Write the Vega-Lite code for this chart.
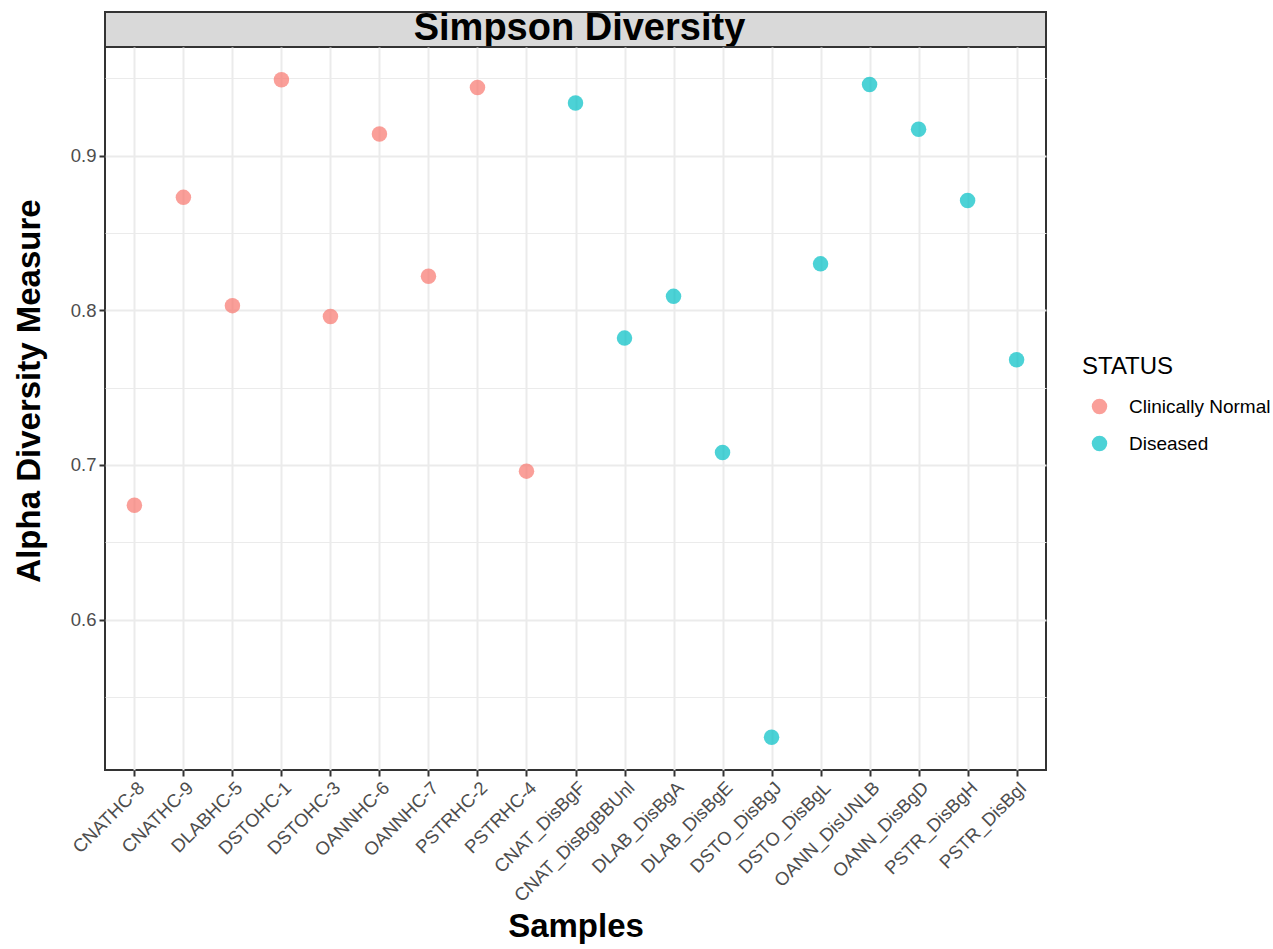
{
  "$schema": "https://vega.github.io/schema/vega-lite/v6.json",
  "background": "white",
  "padding": {"left": 12, "top": 8, "right": 5, "bottom": 5},
  "spacing": 0,
  "bounds": "flush",
  "config": {"font": "Liberation Sans", "concat": {"spacing": 0}},
  "vconcat": [
    {
      "width": 941,
      "height": 35,
      "view": {"fill": "#D9D9D9", "stroke": "#333333", "strokeWidth": 2},
      "data": {"values": [{"facet": "Simpson Diversity"}]},
      "mark": {"type": "text", "fontSize": 38, "fontWeight": "bold", "font": "Liberation Sans", "color": "black", "align": "center", "baseline": "middle", "dy": -1, "dx": 4},
      "encoding": {"text": {"field": "facet", "type": "nominal"}}
    },
    {
      "width": 941,
      "height": 723,
      "view": {"stroke": "#333333", "strokeWidth": 2},
      "data": {
        "values": [
          {"sample": "CNATHC-8", "value": 0.674, "status": "Clinically Normal"},
          {"sample": "CNATHC-9", "value": 0.873, "status": "Clinically Normal"},
          {"sample": "DLABHC-5", "value": 0.803, "status": "Clinically Normal"},
          {"sample": "DSTOHC-1", "value": 0.949, "status": "Clinically Normal"},
          {"sample": "DSTOHC-3", "value": 0.796, "status": "Clinically Normal"},
          {"sample": "OANNHC-6", "value": 0.914, "status": "Clinically Normal"},
          {"sample": "OANNHC-7", "value": 0.822, "status": "Clinically Normal"},
          {"sample": "PSTRHC-2", "value": 0.944, "status": "Clinically Normal"},
          {"sample": "PSTRHC-4", "value": 0.696, "status": "Clinically Normal"},
          {"sample": "CNAT_DisBgF", "value": 0.934, "status": "Diseased"},
          {"sample": "CNAT_DisBgBBUnl", "value": 0.782, "status": "Diseased"},
          {"sample": "DLAB_DisBgA", "value": 0.809, "status": "Diseased"},
          {"sample": "DLAB_DisBgE", "value": 0.708, "status": "Diseased"},
          {"sample": "DSTO_DisBgJ", "value": 0.524, "status": "Diseased"},
          {"sample": "DSTO_DisBgL", "value": 0.830, "status": "Diseased"},
          {"sample": "OANN_DisUNLB", "value": 0.946, "status": "Diseased"},
          {"sample": "OANN_DisBgD", "value": 0.917, "status": "Diseased"},
          {"sample": "PSTR_DisBgH", "value": 0.871, "status": "Diseased"},
          {"sample": "PSTR_DisBgI", "value": 0.768, "status": "Diseased"}
        ]
      },
      "mark": {"type": "circle", "size": 240, "opacity": 0.7},
      "encoding": {
        "x": {
          "field": "sample",
          "type": "nominal",
          "sort": null,
          "scale": {"type": "point", "padding": 0.6},
          "axis": {
            "title": "Samples",
            "titleFontSize": 33,
            "titleFontWeight": "bold",
            "titleColor": "black",
            "titlePadding": 6,
            "labelAngle": -45,
            "labelAlign": "right",
            "labelBaseline": "top",
            "labelFontSize": 18.5,
            "labelColor": "#4D4D4D",
            "labelPadding": 2,
            "domain": false,
            "ticks": true,
            "tickSize": 6,
            "tickWidth": 2,
            "tickColor": "#333333",
            "grid": true,
            "gridColor": "#EBEBEB",
            "gridWidth": 2
          }
        },
        "y": {
          "field": "value",
          "type": "quantitative",
          "scale": {"domain": [0.5028, 0.9702], "nice": false, "zero": false},
          "axis": {
            "title": "Alpha Diversity Measure",
            "titleFontSize": 33,
            "titleFontWeight": "bold",
            "titleColor": "black",
            "titlePadding": 24,
            "titleY": 343.5,
            "values": [0.55, 0.6, 0.65, 0.7, 0.75, 0.8, 0.85, 0.9, 0.95],
            "labelExpr": "round(datum.value*100) % 10 == 0 ? format(datum.value, '.1f') : ''",
            "labelFontSize": 18.5,
            "labelColor": "#4D4D4D",
            "labelPadding": 3,
            "domain": false,
            "tickSize": 6,
            "tickWidth": 2,
            "tickColor": "#333333",
            "tickOpacity": {"condition": {"test": "round(datum.value*100) % 10 == 0", "value": 1}, "value": 0},
            "grid": true,
            "gridColor": "#EBEBEB",
            "gridWidth": {"condition": {"test": "round(datum.value*100) % 10 == 0", "value": 2}, "value": 1}
          }
        },
        "color": {
          "field": "status",
          "type": "nominal",
          "title": "STATUS",
          "scale": {"domain": ["Clinically Normal", "Diseased"], "range": ["#F8766D", "#00BFC4"]},
          "legend": {
            "orient": "none",
            "legendX": 977,
            "legendY": 343,
            "titleFontSize": 24,
            "titleFontWeight": "normal",
            "titleColor": "black",
            "titlePadding": 18,
            "labelFontSize": 19,
            "labelColor": "black",
            "labelOffset": 20,
            "symbolOffset": 8,
            "symbolType": "circle",
            "symbolSize": 240,
            "symbolOpacity": 0.7,
            "symbolStrokeWidth": 0,
            "rowPadding": 17
          }
        }
      }
    }
  ]
}
